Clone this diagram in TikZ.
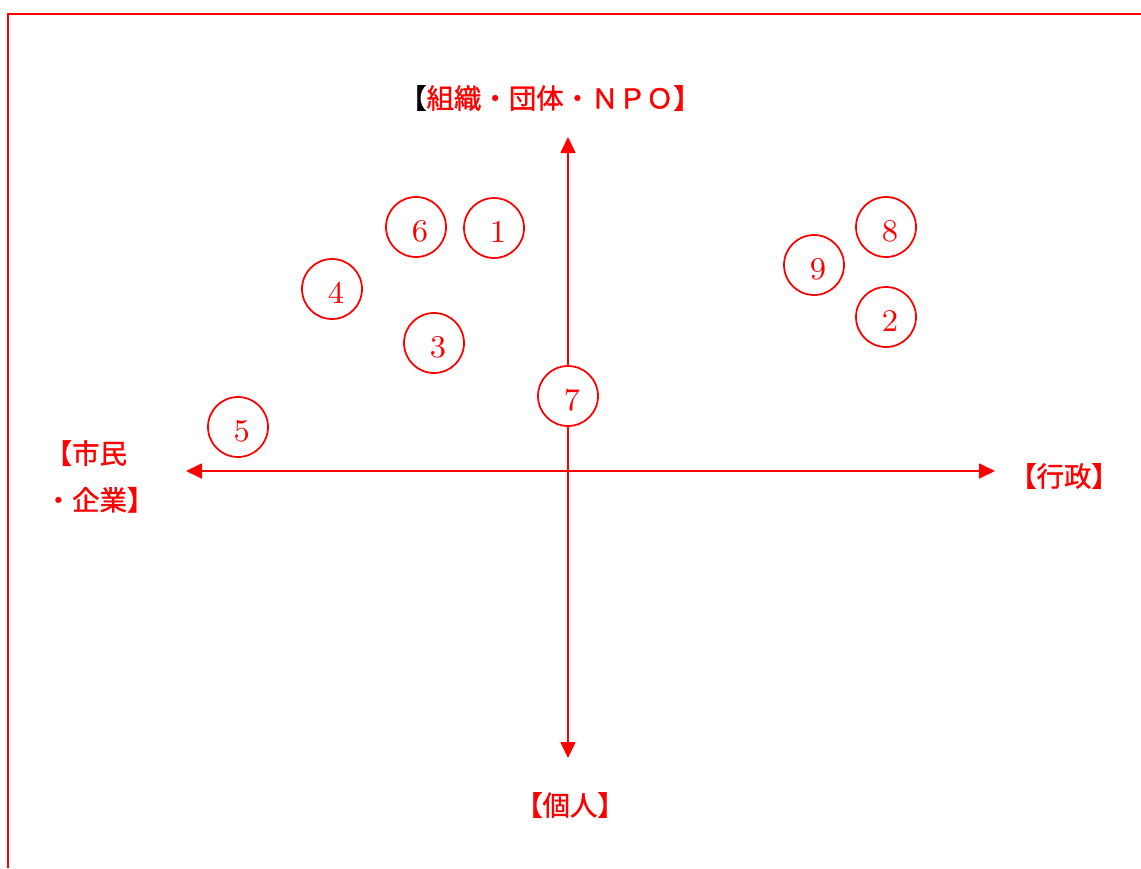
\documentclass[tikz,border=0pt]{standalone}
\usepackage{fontspec}
\newfontfamily\jpfont{Noto Sans CJK JP}[FakeBold=1.2]
\usepackage{tikz}
\usetikzlibrary{arrows.meta}

\begin{document}
\begin{tikzpicture}[>={Triangle[length=0.16cm,width=0.15cm]},
		num/.style={circle, draw=red, fill=white, line width=0.5pt, minimum size=0.6cm, inner sep=0pt,
			text width=0.24cm, align=right, text height=0.29cm, text depth=0cm,
			text=red, font=\fontsize{9}{10}\selectfont},
		axis/.style={red, line width=0.5pt},
		lab/.style={text=red, inner sep=0pt, font=\jpfont\fontsize{7.8}{13.3}\selectfont}]
		\useasboundingbox (0,0) rectangle (11.41,8.68);
		% frame
		\draw[red, line width=0.8pt] (0.08,0) -- (0.08,8.54) -- (11.41,8.54);
		% axes
		\coordinate (top) at (5.68,7.31);
		\coordinate (bottom) at (5.68,1.10);
		\coordinate (left) at (1.86,3.97);
		\coordinate (right) at (9.95,3.97);
		\draw[axis,<->] (left) -- (right);
		\draw[axis,<->] (bottom) -- (top);
		\node[lab] (org) at (5.50,7.70) {{\color{black}【}組織・団体・ＮＰＯ】};
		\node[lab] (kojin) at (5.70,0.63) {【個人】};
		\node[lab] (gyosei) at (10.64,3.92) {【行政】};
		\node[lab, anchor=west, align=left] (shimin) at (0.44,3.915) {【市民\\・企業】};
		% numbers
		\node[num] (n1) at (4.94,6.40) {1};
		\node[num] (n2) at (8.86,5.51) {2};
		\node[num] (n3) at (4.34,5.25) {3};
		\node[num] (n4) at (3.32,5.79) {4};
		\node[num] (n5) at (2.38,4.41) {5};
		\node[num] (n6) at (4.16,6.41) {6};
		\node[num] (n7) at (5.68,4.72) {7};
		\node[num] (n8) at (8.86,6.41) {8};
		\node[num] (n9) at (8.14,6.03) {9};
	\end{tikzpicture}
\end{document}
